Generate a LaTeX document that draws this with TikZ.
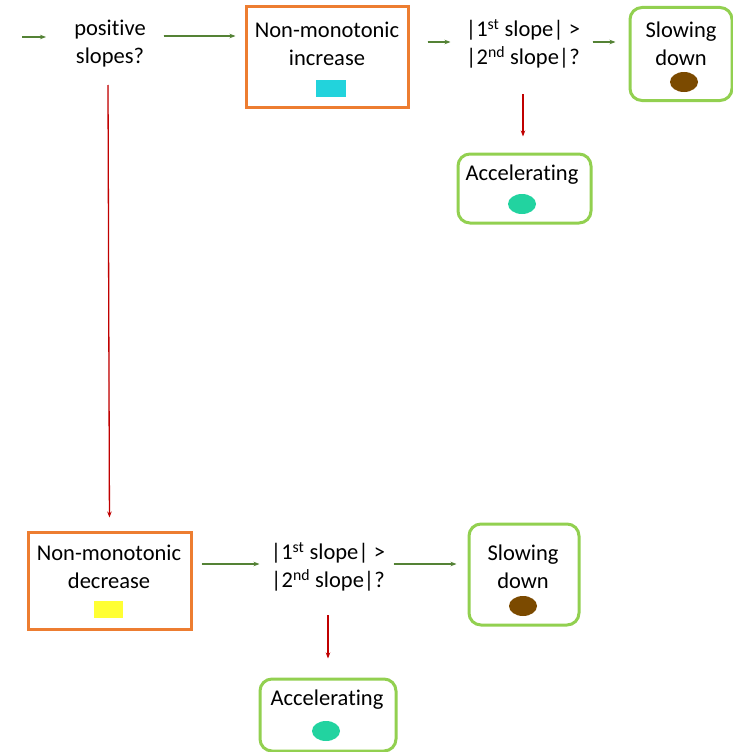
\documentclass[tikz,border=0pt]{standalone}
\usepackage{fontspec}
\setmainfont{Carlito}[Ligatures=NoCommon]
\usetikzlibrary{arrows.meta,shapes.geometric}

\definecolor{boxorange}{RGB}{237,125,49}
\definecolor{boxgreen}{RGB}{146,208,80}
\definecolor{linegreen}{RGB}{84,130,53}
\definecolor{linered}{RGB}{192,0,0}
\definecolor{markcyan}{RGB}{34,211,220}
\definecolor{markyellow}{RGB}{255,255,51}
\definecolor{markbrown}{RGB}{123,74,0}
\definecolor{markteal}{RGB}{34,211,160}

\tikzset{
  label/.style={inner sep=0pt, outer sep=0pt, align=center,
    font=\fontsize{22.5}{28}\selectfont},
  sharpbox/.style={draw=boxorange, line width=3pt, inner sep=0pt},
  roundbox/.style={draw=boxgreen, line width=3pt, rounded corners=12pt, inner sep=0pt},
  marker/.style={fill=#1, draw=none, inner sep=0pt},
  dot/.style={ellipse, fill=#1, draw=none, minimum width=28pt, minimum height=20pt, inner sep=0pt},
  tip/.style={-{Stealth[length=6pt,width=4.5pt]}, line width=1.3pt},
  garrow/.style={tip, draw=linegreen, fill=linegreen},
  rarrow/.style={tip, draw=linered, fill=linered},
}

\begin{document}
\begin{tikzpicture}[x=1pt, y=-1pt]
\useasboundingbox (0,0) rectangle (733,752);

% ---- top row: increasing branch ----
\node[label] (pos) at (110,44) {positive\\slopes?};

\node[sharpbox, minimum width=162pt, minimum height=100pt] (inc) at (327,57) {};
\node[label] (inctext) at (327,44) {Non-monotonic\\increase};
\node[marker=markcyan, minimum width=30pt, minimum height=17pt] (incmark) at (331,88.5) {};

\node[label] (q1) at (523,44) {|1\textsuperscript{st} slope| >\\|2\textsuperscript{nd} slope|?};

\node[roundbox, minimum width=102pt, minimum height=93pt] (slow1) at (681,54) {};
\node[label] (slow1text) at (681,44) {Slowing\\down};
\node[dot=markbrown] (slow1dot) at (684,82) {};

\node[roundbox, minimum width=133pt, minimum height=69pt] (acc1) at (524.5,188.5) {};
\node[label] (acc1text) at (522,175) {Accelerating};
\node[dot=markteal] (acc1dot) at (522,204) {};

% ---- bottom row: decreasing branch ----
\node[sharpbox, minimum width=163pt, minimum height=97pt] (dec) at (109.5,580.5) {};
\node[label] (dectext) at (109,567) {Non-monotonic\\decrease};
\node[marker=markyellow, minimum width=29pt, minimum height=17pt] (decmark) at (108.5,609.5) {};

\node[label] (q2) at (328,567) {|1\textsuperscript{st} slope| >\\|2\textsuperscript{nd} slope|?};

\node[roundbox, minimum width=110pt, minimum height=101pt] (slow2) at (524,574.5) {};
\node[label] (slow2text) at (523,567) {Slowing\\down};
\node[dot=markbrown] (slow2dot) at (523,606) {};

\node[roundbox, minimum width=136pt, minimum height=72pt] (acc2) at (328,715) {};
\node[label] (acc2text) at (327,700) {Accelerating};
\node[dot=markteal] (acc2dot) at (326,731) {};

% ---- connectors ----
\coordinate (entry) at (22,37);
\draw[garrow] (entry) -- ++(24,0);

\coordinate (a1) at ([shift={(18,-8)}]pos.east);
\draw[garrow, shorten >=9pt] (a1) -- (a1 -| inc.west);

\coordinate (b1) at ([shift={(18,-15)}]inc.east);
\draw[garrow] (b1) -- ++(23,0);

\coordinate (c1) at ([shift={(-36,-12)}]slow1.west);
\draw[garrow, shorten >=13pt] (c1) -- (c1 -| slow1.west);

\draw[rarrow, shorten >=16pt] ([yshift=-50pt]q1.center) -- (q1.center |- acc1.north);

\draw[rarrow, shorten >=13pt] ([shift={(-2,41)}]pos.center) -- (dec.north);

\coordinate (a2) at ([shift={(9,-16.5)}]dec.east);
\draw[garrow] (a2) -- ++(58,0);

\coordinate (b2) at ([shift={(-74,-10.5)}]slow2.west);
\draw[garrow, shorten >=11pt] (b2) -- (b2 -| slow2.west);

\draw[rarrow, shorten >=19pt] ([yshift=-48pt]q2.center) -- (q2.center |- acc2.north);
\end{tikzpicture}
\end{document}
